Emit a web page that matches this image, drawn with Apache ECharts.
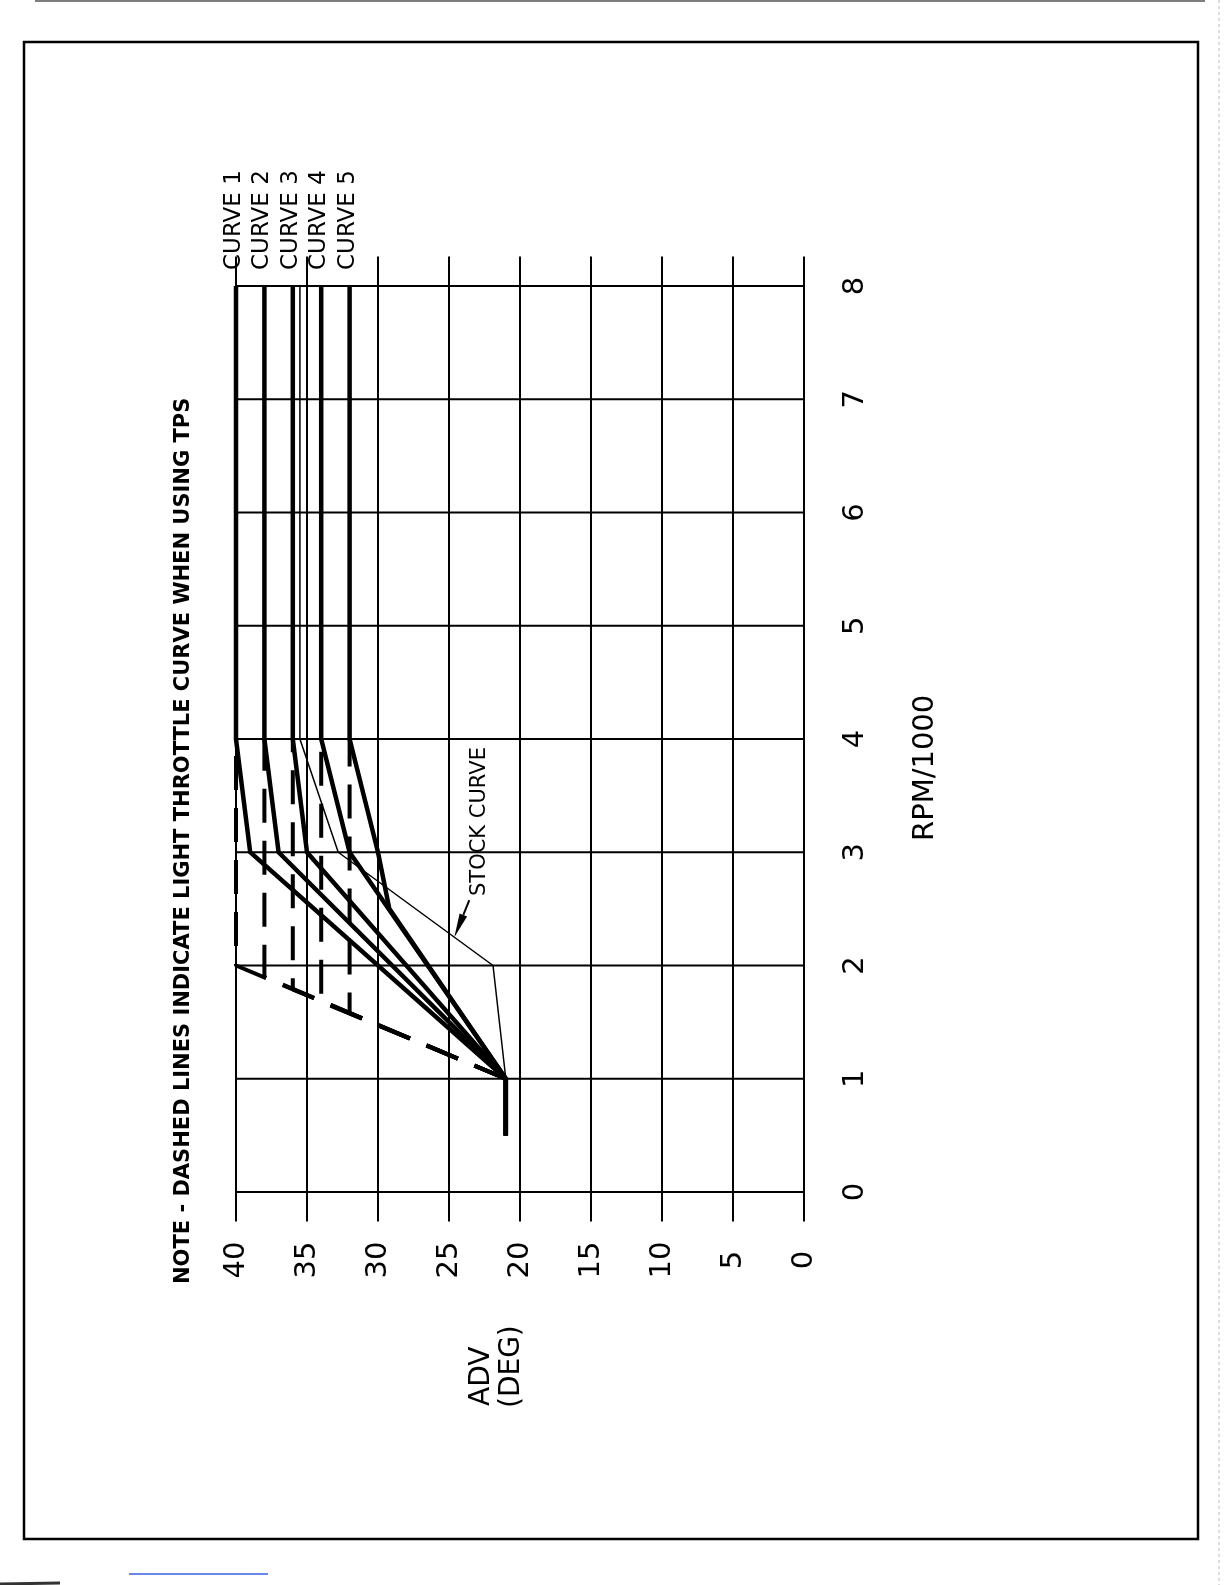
<!DOCTYPE html>
<html><head><meta charset="utf-8">
<script src="https://cdn.jsdelivr.net/npm/echarts@6/dist/echarts.min.js"></script>
<style>html,body{margin:0;padding:0;background:#fff;}#chart{width:1225px;height:1585px;}</style>
</head><body><div id="chart"></div>
<script>
// ---- data ----
const advTicks = [0, 5, 10, 15, 20, 25, 30, 35, 40];
const rpmTicks = [0, 1, 2, 3, 4, 5, 6, 7, 8];
const curveNames = ['CURVE 1', 'CURVE 2', 'CURVE 3', 'CURVE 4', 'CURVE 5'];
const curve1Rpm = [0.5, 1, 3, 4, 8];      const curve1Adv = [21, 21, 39, 40, 40];
const curve2Rpm = [0.5, 1, 3, 4, 8];      const curve2Adv = [21, 21, 37, 38, 38];
const curve3Rpm = [0.5, 1, 3, 4, 8];      const curve3Adv = [21, 21, 35, 36, 36];
const curve4Rpm = [0.5, 1, 3, 4, 8];      const curve4Adv = [21, 21, 32, 34, 34];
const curve5Rpm = [0.5, 1, 2.5, 3, 4, 8]; const curve5Adv = [21, 21, 29.2, 30, 32, 32];
const stockRpm = [1, 2, 3, 4, 8];         const stockAdv = [21, 21.9, 32.8, 35.5, 35.5];
const light1Rpm = [1, 2, 4];    const light1Adv = [21, 40, 40];
const light2Rpm = [1, 1.9, 4];  const light2Adv = [21, 38, 38];
const light3Rpm = [1, 1.79, 4]; const light3Adv = [21, 36, 36];
const light4Rpm = [1, 1.68, 4]; const light4Adv = [21, 34, 34];
const light5Rpm = [1, 1.58, 4]; const light5Adv = [21, 32, 32];
const titleText = 'NOTE - DASHED LINES INDICATE LIGHT THROTTLE CURVE WHEN USING TPS';
const stockLabel = 'STOCK CURVE';
const xName = 'RPM/1000';
const yName1 = 'ADV';
const yName2 = '(DEG)';

const zip = (r, a) => r.map((v, i) => [a[i], v]);
const solids = [[curve1Rpm, curve1Adv], [curve2Rpm, curve2Adv], [curve3Rpm, curve3Adv], [curve4Rpm, curve4Adv], [curve5Rpm, curve5Adv]];
const lights = [[light1Rpm, light1Adv], [light2Rpm, light2Adv], [light3Rpm, light3Adv], [light4Rpm, light4Adv], [light5Rpm, light5Adv]];

const chart = echarts.init(document.getElementById('chart'), null, {renderer: 'canvas'});
const FONT = '"DejaVu Sans", "Liberation Sans", sans-serif';
const series = [];
// grid lines (extend beyond plot area like the reference)
advTicks.forEach(a => series.push({type: 'line', data: [[a, -0.26], [a, 8.26]], symbol: 'none', clip: false, silent: true, z: 1,
  lineStyle: {color: '#000', width: 2}}));
rpmTicks.forEach(r => series.push({type: 'line', data: [[42.05, r], [-2.05, r]], symbol: 'none', clip: false, silent: true, z: 1,
  lineStyle: {color: '#000', width: 2}}));
series.push({name: 'STOCK', type: 'line', data: zip(stockRpm, stockAdv), symbol: 'none', z: 3, lineStyle: {color: '#000', width: 1.5}});
solids.forEach((c, i) => series.push({name: curveNames[i], type: 'line', data: zip(c[0], c[1]), symbol: 'none', z: 4,
  lineStyle: {color: '#000', width: 4.5, cap: 'butt', join: 'miter'}}));
lights.forEach((c, i) => series.push({name: curveNames[i] + ' light', type: 'line', data: zip(c[0], c[1]), symbol: 'none', z: 4,
  lineStyle: {color: '#000', width: 4, type: [34, 18], cap: 'butt'}}));

chart.setOption({
  animation: false,
  backgroundColor: '#fff',
  grid: {left: 236, top: 286, width: 568, height: 906},
  xAxis: {type: 'value', inverse: true, min: 0, max: 40, interval: 5,
    axisLine: {show: false}, axisTick: {show: false}, splitLine: {show: false},
    axisLabel: {rotate: 90, align: 'center', verticalAlign: 'middle', margin: 68, color: '#000', fontSize: 29, fontFamily: FONT}},
  yAxis: {type: 'value', position: 'right', min: 0, max: 8, interval: 1,
    axisLine: {show: false}, axisTick: {show: false}, splitLine: {show: false},
    axisLabel: {rotate: 90, align: 'center', verticalAlign: 'middle', margin: 51, color: '#000', fontSize: 29, fontFamily: FONT}},
  series: series
});

function txt(id, text, x, y, size, weight) {
  return {type: 'text', id: id, x: x, y: y, rotation: Math.PI / 2, z: 10,
    style: {text: text, x: 0, y: 0, font: (weight || 'normal') + ' ' + size + 'px ' + FONT, fill: '#000',
      align: 'left', verticalAlign: 'middle', textAlign: 'left', textVerticalAlign: 'middle'}};
}
const g = [];
g.push({type: 'rect', id: 'border', shape: {x: 24, y: 42, width: 1174, height: 1497}, style: {fill: 'none', stroke: '#000', lineWidth: 2.5}});
g.push({type: 'line', id: 'topedge', shape: {x1: 35, y1: 1, x2: 1205, y2: 1}, style: {stroke: '#555', lineWidth: 1.5}});
g.push({type: 'line', id: 'rightedge', shape: {x1: 1219, y1: 0, x2: 1219, y2: 1585}, style: {stroke: '#bbb', lineWidth: 1, lineDash: [3, 3]}});
g.push({type: 'line', id: 'blue', shape: {x1: 129, y1: 1574, x2: 268, y2: 1574}, style: {stroke: '#3a5ce8', lineWidth: 1.5}});
g.push({type: 'line', id: 'smudge', shape: {x1: 0, y1: 1584, x2: 60, y2: 1583}, style: {stroke: '#333', lineWidth: 3}});
g.push(txt('title', titleText, 184, 1284, 21, 'bold'));
g.push(txt('xname', xName, 925, 841, 29));
g.push(txt('yname1', yName1, 482, 1406, 28));
g.push(txt('yname2', yName2, 512, 1408, 28));
g.push(txt('stock', stockLabel, 480, 896, 21));
solids.forEach((c, i) => {
  const p = chart.convertToPixel({gridIndex: 0}, [c[1][c[1].length - 1], 8]);
  g.push(txt('cl' + i, curveNames[i], p[0] - 2, p[1] - 16, 23));
});
// arrow from STOCK CURVE label to the stock line
const tipRpm = 2.25;
let tipAdv = stockAdv[0];
for (let i = 0; i < stockRpm.length - 1; i++) {
  if (tipRpm >= stockRpm[i] && tipRpm <= stockRpm[i + 1]) {
    tipAdv = stockAdv[i] + (stockAdv[i + 1] - stockAdv[i]) * (tipRpm - stockRpm[i]) / (stockRpm[i + 1] - stockRpm[i]);
  }
}
const tip = chart.convertToPixel({gridIndex: 0}, [tipAdv, tipRpm]);
const start = [tip[0] + 15, tip[1] - 37];
const dx = start[0] - tip[0], dy = start[1] - tip[1], L = Math.hypot(dx, dy);
const ux = dx / L, uy = dy / L, hl = 24, hw = 4;
const base = [tip[0] + ux * hl, tip[1] + uy * hl];
g.push({type: 'line', id: 'arrowline', shape: {x1: start[0], y1: start[1], x2: base[0], y2: base[1]}, style: {stroke: '#000', lineWidth: 2}, z: 10});
g.push({type: 'polygon', id: 'arrowhead', shape: {points: [[tip[0], tip[1]], [base[0] - uy * hw, base[1] + ux * hw], [base[0] + uy * hw, base[1] - ux * hw]]}, style: {fill: '#000'}, z: 10});
chart.setOption({graphic: g});
</script></body></html>
